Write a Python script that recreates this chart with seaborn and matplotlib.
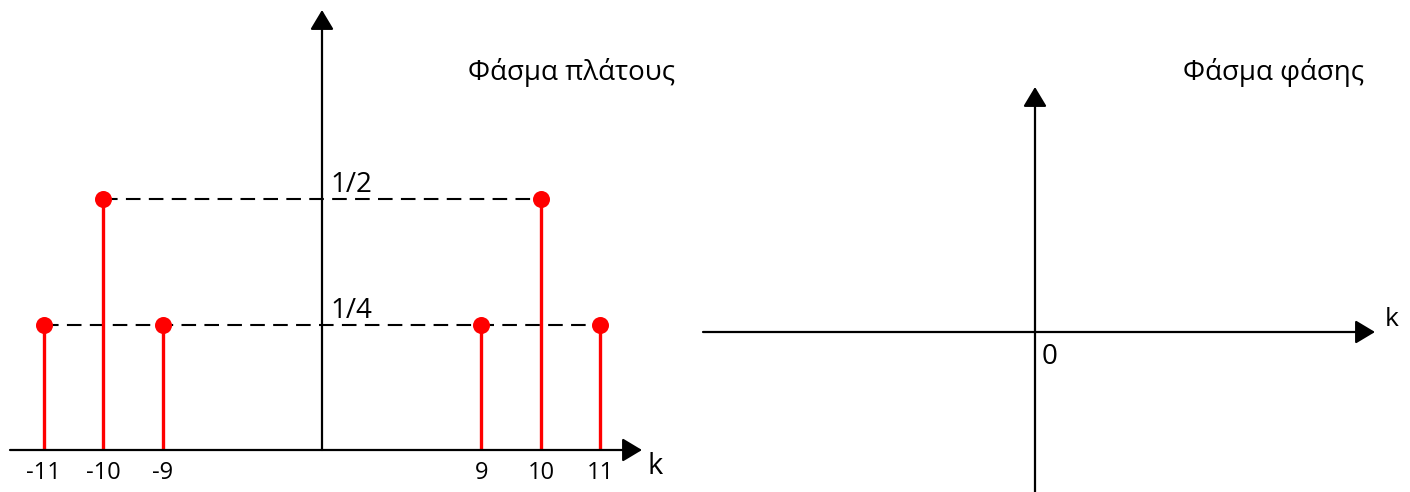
import numpy as np
import pandas as pd
import matplotlib
matplotlib.use('Agg')
import matplotlib.pyplot as plt
import seaborn as sns

# --- Dados do espectro ---
k_vals = [-11, -10, -9, 9, 10, 11]
amplitudes = [0.25, 0.5, 0.25, 0.25, 0.5, 0.25]
tick_labels = ['-11', '-10', '-9', '9', '10', '11']
level_values = [0.5, 0.25]
level_labels = ['1/2', '1/4']
titulo_amp = 'Φάσμα πλάτους'
titulo_fase = 'Φάσμα φάσης'

W, H = 1410, 492
VERMELHO = '#ff0000'
FONTES = ['Open Sans', 'DejaVu Sans']

sns.set_theme(style='white')
plt.rcParams['font.family'] = FONTES
plt.rcParams['text.color'] = 'black'
plt.rcParams['xtick.color'] = 'black'

# eixo k "quebrado": a região entre -9 e 9 fica comprimida
INNER = 2.68
XP = [-100, -9, 9, 100]
FP = [-(INNER + 91), -INNER, INNER, INNER + 91]


def fwd(k):
    return np.interp(k, XP, FP)


def inv(t):
    return np.interp(t, FP, XP)


def seta(ax, p0, p1, coords='data'):
    ax.annotate('', xy=p1, xytext=p0, xycoords=coords, textcoords=coords,
                annotation_clip=False,
                arrowprops=dict(arrowstyle='-|>,head_length=0.5,head_width=0.3',
                                mutation_scale=24, lw=1.6, color='black',
                                shrinkA=0, shrinkB=0))


df = pd.DataFrame({'k': k_vals, 'amp': amplitudes})

fig = plt.figure(figsize=(W / 100, H / 100), dpi=100)

# --- Painel 1: espectro de amplitude ---
base_px, unid_px = 42, 502          # linha de base e pixels por unidade
centro_px, passo_px = 322, 59.5
ax1 = fig.add_axes([0, base_px / H, 700 / W, (H - base_px) / H])
ax1.set_xscale('function', functions=(fwd, inv))
ax1.set_xlim(inv((0 - centro_px) / passo_px), inv((700 - centro_px) / passo_px))
ax1.set_ylim(0, (H - base_px) / unid_px)
for s in ax1.spines.values():
    s.set_visible(False)
ax1.set_yticks([])
ax1.set_xticks(k_vals, tick_labels)
ax1.tick_params(axis='x', length=0, pad=8, labelsize=17, labelcolor='black')

# linhas tracejadas de nível
for nivel in level_values:
    ks = df.loc[df['amp'] == nivel, 'k']
    ax1.hlines(nivel, ks.min(), ks.max(), colors='black', lw=1.5,
               linestyles=(0, (7, 4)), zorder=2)

ax1.vlines(df['k'], 0, df['amp'], colors=VERMELHO, lw=2.4, zorder=3)
sns.scatterplot(data=df, x='k', y='amp', color=VERMELHO, s=150, linewidth=0,
                zorder=4, legend=False, ax=ax1, clip_on=False)
ax1.set_xlabel('')
ax1.set_ylabel('')

# eixos com setas
seta(ax1, (10 / 700, 0), (642 / 700, 0), coords=ax1.get_yaxis_transform())
seta(ax1, (0, 0), (0, (H - base_px - 10) / unid_px))

for nivel, rotulo in zip(level_values, level_labels):
    ax1.annotate(rotulo, xy=(0, nivel), xytext=(6, 5), textcoords='offset points',
                 fontsize=20, va='baseline', ha='left')

fig.text(648 / W, 1 - 474 / H, 'k', fontsize=21, va='baseline')
fig.text(468 / W, 1 - 80 / H, titulo_amp, fontsize=20, va='baseline')

# --- Painel 2: espectro de fase (vazio) ---
ax2 = fig.add_axes([700 / W, 0, 710 / W, 1])
ax2.set_xlim(700 - 1035, W - 1035)
ax2.set_ylim(332 - H, 332)
ax2.axis('off')
seta(ax2, (703 - 1035, 0), (1375 - 1035, 0))
ax2.plot([0, 0], [332 - H, 0], color='black', lw=1.6)
seta(ax2, (0, 0), (0, 332 - 87))
ax2.annotate('0', xy=(0, 0), xytext=(5, -8), textcoords='offset points',
             fontsize=20, va='top', ha='left')
fig.text(1385 / W, 1 - 326 / H, 'k', fontsize=19, va='baseline')
fig.text(1183 / W, 1 - 80 / H, titulo_fase, fontsize=20, va='baseline')

fig.savefig('out.png', dpi=100)
